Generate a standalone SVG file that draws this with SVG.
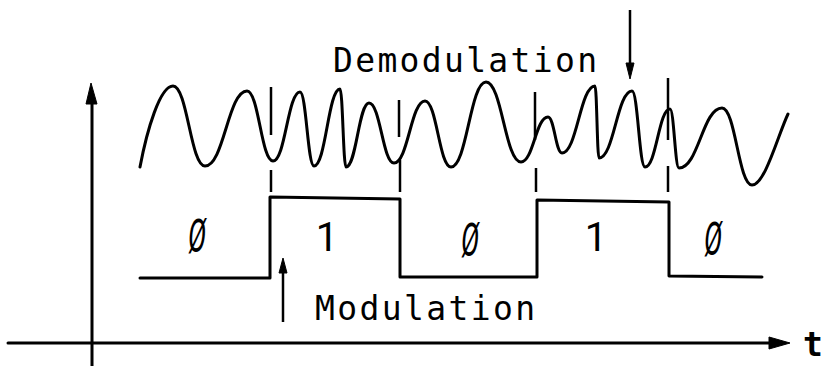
<svg xmlns="http://www.w3.org/2000/svg" width="829" height="366" viewBox="0 0 829 366">
<style>
.ln{fill:none;stroke:#000;stroke-width:3;stroke-linecap:round;stroke-linejoin:round}
.th{fill:none;stroke:#000;stroke-width:2.5;stroke-linecap:butt}
.lbl{font-family:"DejaVu Sans Mono","Liberation Mono",monospace;font-size:33px;fill:#000}
.dig{font-family:Roboto,"Liberation Sans",Arial,sans-serif;font-size:40px;fill:#000;text-anchor:middle}
.zero{font-size:46px;font-style:italic}
.head{fill:#000;stroke:#000;stroke-width:1;stroke-linejoin:round}
</style>
<rect width="829" height="366" fill="#fff"/>
<g id="axes">
<line class="ln" x1="92" y1="366" x2="92" y2="95"/>
<polygon class="head" points="91,83 97,104 86,104"/>
<line class="ln" x1="8" y1="343" x2="778" y2="343"/>
<polygon class="head" points="790,343 769,337 769,349"/>
<text x="803" y="356" style="font-family:'DejaVu Sans Mono','Liberation Mono',monospace;font-size:33px;font-weight:bold">t</text>
</g>
<g id="fsk-wave">
<path class="ln" d="M140,167 C147,130 160,86 173,86 C187.4,86 190.6,166 205,166 C223.9,166 228.1,91 247,91 C258.7,91 261.3,161 273,161 C285.2,161 287.9,92 300,92 C306.3,92 307.7,166 314,166 C325.7,166 328.3,89 340,89 C342.7,89 343.3,167 346,167 C356.4,167 358.7,103 369,103 C380.3,103 382.8,163 394,163 C408,163 411,101 425,101 C436.7,101 439.3,167 451,167 C466.8,167 470.3,82 486,82 C501.8,82 505.3,162 521,162 C533.2,162 535.9,117 548,117 C554.3,117 555.7,153 562,153 C576.9,153 580.2,86 595,86 C596.8,86 597.2,158 599,158 C613.9,158 617.2,91 632,91 C637.9,91 639.2,167 645,167 C656.3,167 658.8,109 670,109 C674,109 675,168 679,168 C698.4,168 702.7,108 722,108 C735.5,108 738.5,185 752,185 C765,185 778,135 788,114"/>
</g>
<g id="bit-boundaries">
<line class="th" x1="271" y1="87" x2="271" y2="135"/>
<line class="th" x1="271" y1="170" x2="271" y2="192"/>
<line class="th" x1="399" y1="100" x2="399" y2="137"/>
<line class="th" x1="400" y1="160" x2="400" y2="192"/>
<line class="th" x1="535" y1="92" x2="535" y2="140"/>
<line class="th" x1="536" y1="168" x2="536" y2="192"/>
<line class="th" x1="668" y1="78" x2="668" y2="140"/>
<line class="th" x1="668" y1="166" x2="668" y2="192"/>
</g>
<g id="square-wave">
<path class="ln" d="M140,278 L270,278 L270,197 L400,199 L400,277 L537,277 L537,200 L669,202 L669,276 L762,277"/>
</g>
<g id="bits">
<text class="dig zero" x="197" y="252" textLength="18" lengthAdjust="spacingAndGlyphs">Ø</text>
<text class="dig" x="327" y="251">1</text>
<text class="dig zero" x="470" y="256" textLength="18" lengthAdjust="spacingAndGlyphs">Ø</text>
<text class="dig" x="596" y="251">1</text>
<text class="dig zero" x="713" y="255" textLength="18" lengthAdjust="spacingAndGlyphs">Ø</text>
</g>
<g id="modulation-label">
<line class="th" x1="283" y1="322" x2="283" y2="268"/>
<polygon class="head" points="283,258 287,273 279,273"/>
<text class="lbl" x="315" y="320" textLength="220" lengthAdjust="spacing">Modulation</text>
</g>
<g id="demodulation-label">
<line class="th" x1="630" y1="10" x2="630" y2="68"/>
<polygon class="head" points="630,79 626,63 634,63"/>
<text class="lbl" x="333" y="72" textLength="264" lengthAdjust="spacing">Demodulation</text>
</g>
</svg>
